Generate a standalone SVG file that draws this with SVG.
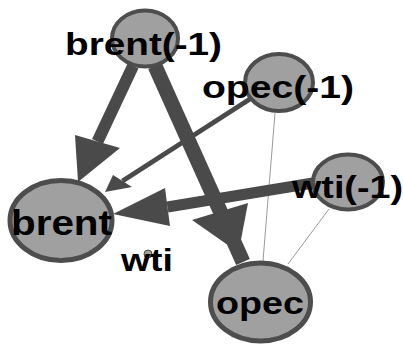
<svg xmlns="http://www.w3.org/2000/svg" width="403" height="344" viewBox="0 0 403 344">
<style>
.node{fill:#a0a0a0;stroke:#4d4d4d;}
.shaft{stroke:#4a4a4a;fill:none;stroke-linecap:butt;}
.head{fill:#4a4a4a;stroke:none;}
.thin{stroke:#9a9a9a;stroke-width:1;fill:none;}
.lbl{font-family:"Liberation Sans",Arial,sans-serif;font-weight:bold;fill:#000;}
</style>
<rect width="403" height="344" fill="#fff"/>
<g id="connectors">
  <g id="e-opec1-opec"><line class="thin" x1="275" y1="113" x2="263" y2="261"/></g>
  <g id="e-wti1-opec"><line class="thin" x1="329" y1="209" x2="288" y2="264"/></g>
  <g id="e-brent1-brent">
    <line class="shaft" stroke-width="12" x1="133" y1="66" x2="97.5" y2="141.5"/>
    <polygon class="head" points="75,135 120,148 78,182"/>
  </g>
  <g id="e-brent1-opec">
    <line class="shaft" stroke-width="15" x1="155" y1="66" x2="243" y2="262"/>
    <polygon class="head" points="192,220 248,203 238.5,252.5"/>
  </g>
  <g id="e-opec1-brent">
    <line class="shaft" stroke-width="5" x1="250" y1="99" x2="122.5" y2="181"/>
    <polygon class="head" points="113,175 132,187 105,192"/>
  </g>
  <g id="e-wti1-brent">
    <line class="shaft" stroke-width="11" x1="313" y1="183" x2="167.5" y2="207"/>
    <polygon class="head" points="165,188 170,226 113,214"/>
  </g>
</g>
<g id="node-brent-1">
  <ellipse class="node" stroke-width="4" cx="145" cy="38.5" rx="33" ry="28"/>
  <text class="lbl" x="65" y="55" font-size="32" textLength="157" lengthAdjust="spacingAndGlyphs">brent(-1)</text>
</g>
<g id="node-opec-1">
  <ellipse class="node" stroke-width="4" cx="279" cy="82.5" rx="34" ry="28.5"/>
  <text class="lbl" x="202" y="98" font-size="31" textLength="152" lengthAdjust="spacingAndGlyphs">opec(-1)</text>
</g>
<g id="node-wti-1">
  <ellipse class="node" stroke-width="4" cx="348" cy="182" rx="35" ry="27.5"/>
  <text class="lbl" x="292" y="198" font-size="31" textLength="111" lengthAdjust="spacingAndGlyphs">wti(-1)</text>
</g>
<g id="node-brent">
  <ellipse class="node" stroke-width="5" cx="61" cy="220.5" rx="51" ry="40"/>
  <text class="lbl" x="11" y="235" font-size="35" textLength="101" lengthAdjust="spacingAndGlyphs">brent</text>
</g>
<g id="node-opec">
  <ellipse class="node" stroke-width="5" cx="260.5" cy="302" rx="50" ry="39"/>
  <text class="lbl" x="216" y="314" font-size="32" textLength="88" lengthAdjust="spacingAndGlyphs">opec</text>
</g>
<g id="node-wti">
  <ellipse class="node" stroke-width="1" cx="148" cy="254" rx="4" ry="4"/>
  <text class="lbl" x="121" y="271" font-size="31" textLength="52" lengthAdjust="spacingAndGlyphs">wti</text>
</g>
</svg>
